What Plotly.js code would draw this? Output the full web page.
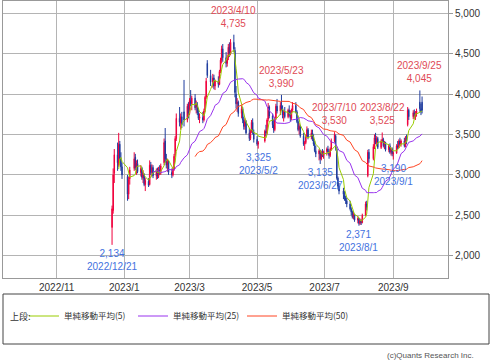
<!DOCTYPE html>
<html>
<head>
<meta charset="utf-8">
<script src="https://cdn.plot.ly/plotly-3.0.1.min.js"></script>
<style>html,body{margin:0;padding:0;background:#fff;}#chart{width:491px;height:360px;}</style>
</head>
<body>
<div id="chart"></div>
<script>
// Daily candles: [day, open, high, low, close]
const dec2022 = [
[21,2350,2620,2134,2580],[22,2560,3080,2520,3000],[23,3020,3320,2900,3250],[26,3250,3400,3050,3150],
[27,3120,3520,3100,3380],[28,3380,3420,3150,3200],[29,3200,3280,3050,3100],[30,3100,3150,2950,3000]];
const jan2023 = [
[4,2980,3000,2680,2760],[5,2760,2980,2700,2940],[6,2950,3100,2880,3060],[10,3080,3280,3050,3200],
[11,3220,3260,3060,3090],[12,3090,3180,3000,3150],[13,3140,3190,3020,3040],[16,3030,3120,2980,3080],
[17,3080,3100,2940,2970],[18,2960,3060,2900,3020],[19,3000,3020,2860,2880],[20,2880,2960,2800,2930],
[23,2920,2960,2850,2870],[24,2880,3180,2870,3120],[25,3120,3160,3000,3030],[26,3030,3130,2980,3090],
[27,3090,3120,2960,2990],[30,2990,3080,2940,3050],[31,3050,3090,2950,2980]];
const feb2023 = [
[1,2980,3100,2960,3060],[2,3060,3120,3000,3020],[3,3020,3140,3000,3110],[6,3150,3450,3120,3400],
[7,3420,3580,3150,3200],[8,3200,3260,3080,3120],[9,3120,3200,3040,3160],[10,3150,3180,3000,3030],
[13,3030,3080,2960,3000],[14,3000,3100,2980,3070],[15,3070,3260,3050,3230],[16,3240,3480,3220,3450],
[17,3450,3760,3420,3700],[20,3700,3840,3600,3650],[21,3640,3760,3560,3720],[22,3720,3780,3580,3620],
[24,3780,4175,3600,3680],[27,3680,3880,3650,3850],[28,3850,3900,3700,3760]];
const mar2023 = [
[1,3760,3950,3740,3920],[2,3920,4050,3850,3880],[3,3880,3980,3800,3950],[6,3950,4000,3800,3830],
[7,3840,3920,3760,3880],[8,3870,3900,3740,3770],[9,3770,3830,3680,3700],[10,3700,3760,3640,3720],
[13,3710,3780,3640,3680],[14,3680,3820,3660,3790],[15,3800,3980,3780,3960],[16,3960,4200,3940,4160],
[17,4380,4420,4200,4230],[20,4230,4300,4100,4150],[22,4150,4250,4080,4200],[23,4200,4240,4060,4100],
[24,4100,4180,4050,4160],[27,4160,4220,4080,4120],[28,4120,4300,4110,4280],[29,4280,4450,4260,4420],
[30,4420,4600,4380,4560],[31,4560,4620,4400,4450]];
const apr2023 = [
[3,4450,4520,4330,4380],[4,4380,4480,4340,4450],[5,4450,4620,4420,4580],[6,4580,4640,4460,4500],
[7,4500,4680,4480,4640],[10,4640,4735,4520,4560],[11,4540,4580,3960,4020],[12,4000,4100,3820,3880],
[13,3880,3950,3780,3900],[14,3900,3920,3720,3760],[17,3760,3860,3700,3820],[18,3820,3840,3640,3680],
[19,3680,3720,3560,3600],[20,3600,3700,3560,3660],[21,3660,3680,3500,3520],[24,3520,3580,3420,3450],
[25,3450,3560,3430,3540],[26,3540,3680,3520,3650],[27,3650,3700,3500,3530],[28,3530,3560,3400,3440]];
const may2023 = [
[1,3440,3480,3360,3380],[2,3380,3420,3325,3400],[8,3420,3560,3400,3540],[9,3540,3620,3480,3520],
[10,3520,3700,3500,3680],[11,3690,3890,3660,3840],[12,3840,3860,3700,3730],[15,3730,3760,3580,3620],
[16,3620,3680,3520,3560],[17,3560,3720,3540,3700],[18,3700,3880,3680,3850],[19,3850,3940,3760,3790],
[22,3790,3900,3740,3860],[23,3860,3990,3800,3820],[24,3820,3860,3700,3740],[25,3740,3800,3660,3780],
[26,3780,3840,3700,3720],[29,3720,3820,3700,3800],[30,3800,3860,3720,3750],[31,3750,3800,3660,3700]];
const jun2023 = [
[1,3700,3820,3680,3800],[2,3800,3900,3780,3860],[5,3860,3900,3760,3780],[6,3780,3800,3640,3660],
[7,3660,3700,3540,3560],[8,3560,3640,3500,3600],[9,3600,3620,3460,3480],[12,3480,3520,3360,3380],
[13,3380,3420,3310,3400],[14,3400,3500,3380,3480],[15,3480,3600,3460,3560],[16,3560,3580,3440,3470],
[19,3470,3560,3440,3520],[20,3520,3560,3420,3440],[21,3440,3500,3360,3380],[22,3380,3420,3280,3300],
[23,3300,3360,3220,3260],[26,3260,3320,3180,3300],[27,3300,3310,3135,3200],[28,3200,3300,3180,3280],
[29,3280,3320,3220,3240],[30,3240,3300,3200,3290]];
const jul2023 = [
[3,3290,3340,3240,3320],[4,3320,3360,3260,3280],[5,3280,3300,3200,3240],[6,3240,3340,3220,3320],
[7,3320,3450,3300,3420],[10,3420,3530,3400,3500],[11,3480,3500,3300,3330],[12,3320,3340,2940,2960],
[13,2960,2980,2820,2860],[14,2860,2900,2760,2800],[18,2800,2840,2700,2760],[19,2760,2800,2680,2720],
[20,2720,2740,2640,2680],[21,2680,2720,2600,2640],[24,2640,2680,2560,2580],[25,2580,2600,2500,2540],
[26,2540,2560,2460,2480],[27,2480,2540,2450,2510],[28,2510,2520,2420,2440],[31,2440,2490,2400,2460]];
const aug2023 = [
[1,2460,2470,2371,2400],[2,2400,2460,2380,2430],[3,2430,2450,2380,2410],[4,2410,2520,2400,2500],
[7,2500,2670,2490,2640],[8,2640,2680,2560,2600],[9,2990,3310,2970,3280],[10,3280,3320,3150,3200],
[14,3200,3380,3180,3350],[15,3350,3500,3320,3460],[16,3460,3520,3380,3400],[17,3400,3480,3360,3450],
[18,3450,3470,3320,3340],[21,3340,3440,3320,3420],[22,3420,3525,3400,3440],[23,3440,3460,3340,3360],
[24,3360,3420,3320,3400],[25,3400,3410,3290,3310],[28,3310,3380,3280,3360],[29,3360,3390,3260,3280],
[30,3280,3340,3240,3320],[31,3320,3340,3230,3260]];
const sep2023 = [
[1,3260,3290,3190,3270],[4,3270,3380,3260,3360],[5,3360,3420,3320,3340],[6,3340,3440,3330,3420],
[7,3420,3460,3360,3380],[8,3380,3440,3350,3420],[11,3420,3460,3340,3360],[12,3360,3480,3340,3450],
[13,3460,3500,3380,3420],[14,3620,3840,3600,3800],[15,3800,3820,3680,3720],[19,3720,3800,3690,3770],
[20,3770,3810,3700,3730],[21,3730,3790,3680,3760],[22,3760,3820,3720,3790],[25,3900,4045,3780,3820],
[26,3820,3880,3740,3780],[27,3900,3970,3760,3800]];

const monthKeys = ['2022-12','2023-01','2023-02','2023-03','2023-04','2023-05','2023-06','2023-07','2023-08','2023-09'];
const monthRows = [dec2022,jan2023,feb2023,mar2023,apr2023,may2023,jun2023,jul2023,aug2023,sep2023];

// Labelled extremes
const highMarks = [['2023-04-10',4735],['2023-05-23',3990],['2023-07-10',3530],['2023-08-22',3525],['2023-09-25',4045]];
const lowMarks = [['2022-12-21',2134],['2023-05-02',3325],['2023-06-27',3135],['2023-08-01',2371],['2023-09-01',3190]];

const maPeriods = [5,25,50];
const maNames = ['単純移動平均(5)','単純移動平均(25)','単純移動平均(50)'];
const maColors = ['#99cc00','#9933ee','#ff4422'];

const dates=[], open=[], high=[], low=[], close=[];
monthRows.forEach((rows, m) => rows.forEach(r => {
  dates.push(monthKeys[m] + '-' + String(r[0]).padStart(2,'0'));
  open.push(r[1]); high.push(r[2]); low.push(r[3]); close.push(r[4]);
}));

function sma(n){
  return close.map((c,i) => {
    if (i < n-1) return null;
    let s = 0; for (let k=i-n+1;k<=i;k++) s += close[k];
    return s/n;
  });
}

const traces = [{
  type:'candlestick', x:dates, open:open, high:high, low:low, close:close,
  increasing:{line:{color:'#f0003c',width:1},fillcolor:'#f0003c'},
  decreasing:{line:{color:'#1f3c9e',width:1},fillcolor:'#1f3c9e'},
  whiskerwidth:0, showlegend:false, hoverinfo:'skip'
}];
maPeriods.forEach((p,i) => traces.push({
  type:'scatter', mode:'lines', x:dates, y:sma(p), name:maNames[i],
  line:{color:maColors[i], width:1}, hoverinfo:'skip'
}));

function fmtDate(d){ const [y,m,dd]=d.split('-'); return y+'/'+parseInt(m)+'/'+parseInt(dd); }
function fmtNum(v){ return v.toLocaleString('en-US'); }

const labelFont = {family:'Liberation Sans, Noto Sans CJK JP, sans-serif', size:10};
const annotations = [];
highMarks.forEach(([d,v]) => annotations.push({
  x:d, y:v, xref:'x', yref:'y', text:fmtDate(d)+'<br>'+fmtNum(v), showarrow:false,
  yanchor:'bottom', yshift:4, align:'center', font:Object.assign({color:'#e04a55'},labelFont)
}));
lowMarks.forEach(([d,v]) => annotations.push({
  x:d, y:v, xref:'x', yref:'y', text:fmtNum(v)+'<br>'+fmtDate(d), showarrow:false,
  yanchor:'top', yshift:-1, align:'center', font:Object.assign({color:'#4472e0'},labelFont)
}));
annotations.push({
  xref:'paper', yref:'paper', x:(8-3)/445, y:(278-316)/277, xanchor:'left', yanchor:'middle',
  text:'上段:', showarrow:false,
  font:{family:'Noto Sans CJK JP, sans-serif', size:9, color:'#333'}
});
annotations.push({
  xref:'paper', yref:'paper', x:(476-3)/445, y:(278-355)/277, xanchor:'right', yanchor:'middle',
  text:'(c)Quants Research Inc.', showarrow:false,
  font:{family:'Liberation Sans, sans-serif', size:8, color:'#555'}
});

const layout = {
  width:491, height:360,
  margin:{l:3, r:43, t:1, b:82},
  paper_bgcolor:'#fff', plot_bgcolor:'#fff',
  font:{family:'Liberation Sans, Noto Sans CJK JP, sans-serif', size:10, color:'#333'},
  xaxis:{
    type:'date', range:['2022-09-13 12:00','2023-10-20 10:00'],
    tick0:'2022-11-01', dtick:'M2', tickformat:'%Y/%-m',
    showgrid:true, gridcolor:'#b4b4b4', gridwidth:1,
    showline:true, mirror:true, linecolor:'#999', linewidth:1,
    ticks:'', rangeslider:{visible:false}, fixedrange:true, zeroline:false
  },
  yaxis:{
    side:'right', range:[1724,5152], tick0:2000, dtick:500, tickformat:',d',
    showgrid:true, gridcolor:'#b4b4b4', gridwidth:1,
    showline:true, mirror:true, linecolor:'#999', linewidth:1,
    ticks:'outside', ticklen:4, tickcolor:'#999', zeroline:false, fixedrange:true
  },
  showlegend:true,
  legend:{
    orientation:'h', xref:'container', yref:'container',
    x:24/491, y:1-316/360, xanchor:'left', yanchor:'middle',
    font:{family:'Noto Sans CJK JP, sans-serif', size:8.5, color:'#333'},
    entrywidth:64, entrywidthmode:'pixels',
    bgcolor:'rgba(0,0,0,0)', traceorder:'normal'
  },
  shapes:[{
    type:'rect', xref:'paper', yref:'paper', x0:0, x1:(489-3)/445, y0:(278-344)/277, y1:(278-294)/277,
    line:{color:'#444', width:1}, fillcolor:'rgba(0,0,0,0)'
  }],
  annotations:annotations,
  hovermode:false
};

Plotly.newPlot('chart', traces, layout, {displayModeBar:false, staticPlot:true});
</script>
</body>
</html>
